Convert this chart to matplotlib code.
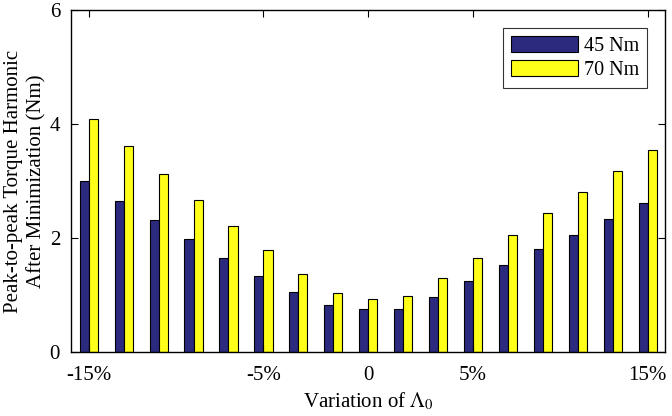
import numpy as np
import matplotlib.pyplot as plt

plt.rcParams['font.family'] = ['Liberation Serif', 'DejaVu Serif']
plt.rcParams['mathtext.fontset'] = 'stix'

groups = np.arange(1, 18)
nm45 = [3.00, 2.65, 2.32, 1.98, 1.65, 1.34, 1.05, 0.82, 0.75,
        0.75, 0.96, 1.24, 1.52, 1.80, 2.06, 2.34, 2.61]
nm70 = [4.09, 3.61, 3.13, 2.67, 2.21, 1.78, 1.37, 1.04, 0.93,
        0.99, 1.29, 1.65, 2.05, 2.43, 2.81, 3.18, 3.55]
tick_pos = [1, 6, 9, 12, 17]
tick_labels = ['-15%', '-5%', '0', '5%', '15%']

fig = plt.figure(figsize=(6.72, 4.16), dpi=100)
ax = fig.add_axes([0.106, 0.154, 0.884, 0.822])

w = 0.26
ax.bar(groups - w / 2, nm45, w, color='#2b2a7f', edgecolor='black', linewidth=0.8, label='45 Nm')
ax.bar(groups + w / 2, nm70, w, color='#ffff1a', edgecolor='black', linewidth=0.8, label='70 Nm')

ax.set_xlim(0.5, 17.5)
ax.set_ylim(0, 6)
ax.set_yticks([0, 2, 4, 6])
ax.set_xticks(tick_pos)
ax.set_xticklabels(tick_labels)
ax.tick_params(direction='in', top=True, right=True, labelsize=15, length=5)
ax.tick_params(axis='x', pad=10)
ax.tick_params(axis='y', pad=8)
for s in ax.spines.values():
    s.set_linewidth(1.0)

ax.set_xlabel(r'Variation of $\Lambda_0$', fontsize=15, labelpad=4)
ax.set_ylabel('Peak-to-peak Torque Harmonic\nAfter Minimization (Nm)', fontsize=15,
              labelpad=2, linespacing=1.3)

leg = ax.legend(loc='upper right', fontsize=14.5, fancybox=False, edgecolor='black',
                handlelength=3.3, handleheight=0.85, borderaxespad=0.9, labelspacing=0.2,
                handletextpad=0.3, borderpad=0.4)
leg.get_frame().set_linewidth(0.8)

fig.savefig('out.png', dpi=100)
